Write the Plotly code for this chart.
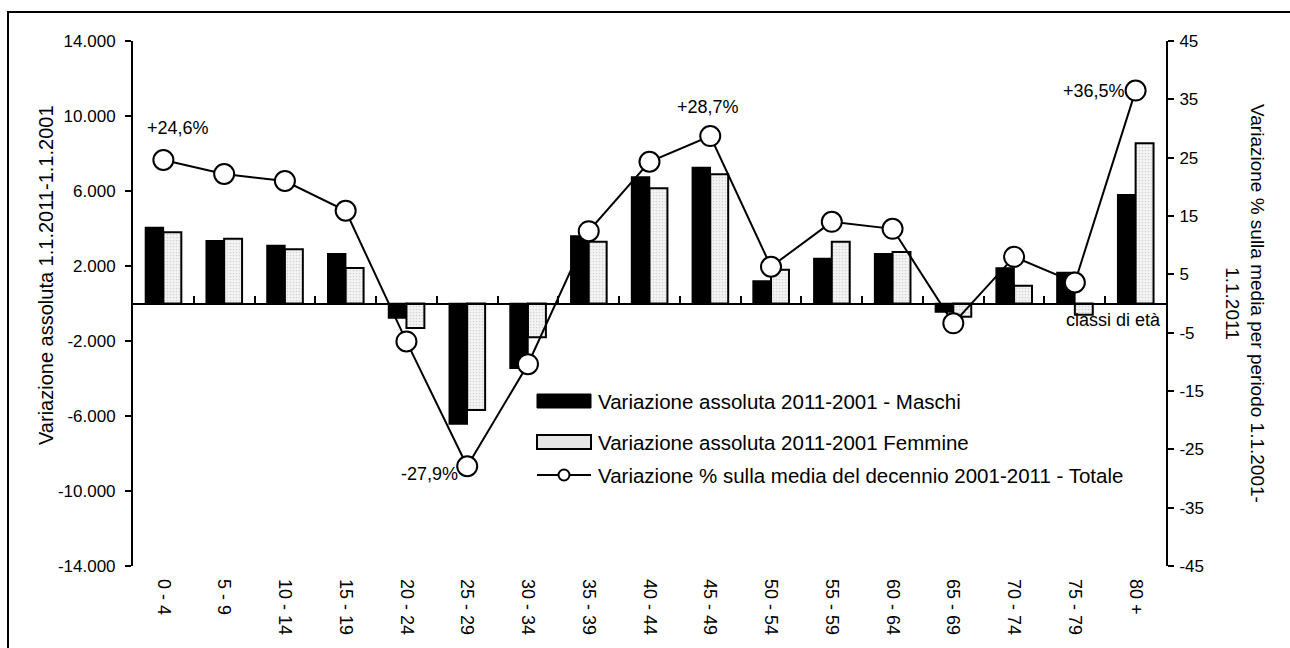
import plotly.graph_objects as go

# Age classes and values
classi = ["0 - 4", "5 - 9", "10 - 14", "15 - 19", "20 - 24", "25 - 29", "30 - 34",
          "35 - 39", "40 - 44", "45 - 49", "50 - 54", "55 - 59", "60 - 64",
          "65 - 69", "70 - 74", "75 - 79", "80 +"]
maschi = [4050, 3350, 3100, 2650, -770, -6430, -3450, 3600, 6750, 7250,
          1200, 2400, 2650, -450, 1900, 1650, 5800]
femmine = [3800, 3450, 2900, 1900, -1300, -5680, -1800, 3300, 6150, 6900,
           1800, 3300, 2750, -700, 950, -600, 8550]
totale_pct = [24.6, 22.2, 21.0, 15.9, -6.5, -27.9, -10.4, 12.4, 24.3, 28.7,
              6.3, 14.0, 12.8, -3.4, 8.0, 3.6, 36.5]

left_tickvals = [-14000, -10000, -6000, -2000, 2000, 6000, 10000, 14000]
left_ticktext = ["-14.000", "-10.000", "-6.000", "-2.000", "2.000", "6.000", "10.000", "14.000"]
right_tickvals = [-45, -35, -25, -15, -5, 5, 15, 25, 35, 45]
right_ticktext = ["-45", "-35", "-25", "-15", "-5", "5", "15", "25", "35", "45"]

name_m = "Variazione assoluta 2011-2001 - Maschi"
name_f = "Variazione assoluta 2011-2001 Femmine"
name_t = "Variazione % sulla media del decennio 2001-2011 - Totale"
title_left = "Variazione assoluta 1.1.2011-1.1.2001"
title_right = "Variazione % sulla media per periodo 1.1.2001-<br>1.1.2011"
title_x = "classi di età"

# labelled points: (index, xshift, yshift)
labelled = [(0, 15, 32), (9, -2, 29), (5, -38, -8), (16, -42, 0)]

FONT = "Liberation Sans, Arial, sans-serif"
W_PX, H_PX = 1290, 648
L, R, T, B = 133, 124, 41, 82
PW, PH = W_PX - L - R, H_PX - T - B


def px_x(p):
    return (p - L) / PW


def px_y(p):
    return (H_PX - B - p) / PH


fig = go.Figure()
fig.add_trace(go.Bar(
    x=classi, y=maschi, name=name_m, xaxis="x", yaxis="y",
    marker=dict(color="black", line=dict(color="black", width=1.5)),
))
fig.add_trace(go.Bar(
    x=classi, y=femmine, name=name_f, xaxis="x", yaxis="y",
    marker=dict(color="#f4f4f4", line=dict(color="black", width=2),
                pattern=dict(shape=".", fgcolor="#b4b4b4", bgcolor="#f4f4f4",
                             size=3, solidity=0.25)),
))
fig.add_trace(go.Scatter(
    x=classi, y=totale_pct, name=name_t, xaxis="x2", yaxis="y2",
    mode="lines+markers",
    line=dict(color="black", width=2),
    marker=dict(symbol="circle", size=20, color="white",
                line=dict(color="black", width=2)),
))

annotations = []
for i, xs, ys in labelled:
    v = totale_pct[i]
    annotations.append(dict(
        x=classi[i], y=v, xref="x2", yref="y2", xanchor="center", yanchor="middle",
        text=f"{v:+.1f}%".replace(".", ","), showarrow=False,
        xshift=xs, yshift=ys, font=dict(family=FONT, size=18, color="black"),
    ))

# axis titles
annotations.append(dict(
    x=px_x(46), y=px_y(275), xref="paper", yref="paper", text=title_left,
    textangle=-90, showarrow=False, xanchor="center", yanchor="middle",
    font=dict(family=FONT, size=20, color="black"),
))
annotations.append(dict(
    x=px_x(1245), y=px_y(303), xref="paper", yref="paper", text=title_right,
    textangle=90, showarrow=False, xanchor="center", yanchor="middle",
    font=dict(family=FONT, size=19, color="black"),
))
annotations.append(dict(
    x=px_x(1163), y=px_y(308), xref="paper", yref="paper", text=title_x,
    showarrow=False, xanchor="right", yanchor="top",
    font=dict(family=FONT, size=18, color="black"),
))

# legend drawn inside the plot
shapes = []
leg_x0, leg_x1 = 537, 591
leg_rows = [401, 442, 475]
shapes.append(dict(type="rect", xref="paper", yref="paper",
                   x0=px_x(leg_x0), x1=px_x(leg_x1),
                   y0=px_y(leg_rows[0] - 7), y1=px_y(leg_rows[0] + 7),
                   fillcolor="black", line=dict(color="black", width=1)))
shapes.append(dict(type="rect", xref="paper", yref="paper",
                   x0=px_x(leg_x0), x1=px_x(leg_x1),
                   y0=px_y(leg_rows[1] - 7), y1=px_y(leg_rows[1] + 7),
                   fillcolor="#e6e6e6", line=dict(color="black", width=2)))
shapes.append(dict(type="line", xref="paper", yref="paper",
                   x0=px_x(leg_x0), x1=px_x(leg_x1),
                   y0=px_y(leg_rows[2]), y1=px_y(leg_rows[2]),
                   line=dict(color="black", width=2)))
shapes.append(dict(type="circle", xref="paper", yref="paper",
                   xsizemode="pixel", ysizemode="pixel",
                   xanchor=px_x((leg_x0 + leg_x1) / 2), yanchor=px_y(leg_rows[2]),
                   x0=-5.5, x1=5.5, y0=-5.5, y1=5.5,
                   fillcolor="white", line=dict(color="black", width=2)))
for name, yy in zip([name_m, name_f, name_t], leg_rows):
    annotations.append(dict(
        x=px_x(596), y=px_y(yy), xref="paper", yref="paper", text=name,
        showarrow=False, xanchor="left", yanchor="middle",
        font=dict(family=FONT, size=20.5, color="black"),
    ))

# outer frame: top and left edges (the rest falls outside the page)
shapes.append(dict(type="line", xref="paper", yref="paper",
                   x0=px_x(7), x1=px_x(W_PX + 5), y0=px_y(12), y1=px_y(12),
                   line=dict(color="black", width=2)))
shapes.append(dict(type="line", xref="paper", yref="paper",
                   x0=px_x(8), x1=px_x(8), y0=px_y(11), y1=px_y(H_PX + 5),
                   line=dict(color="black", width=2)))

fig.update_layout(
    width=W_PX, height=H_PX,
    margin=dict(l=L, r=R, t=T, b=B, pad=0),
    paper_bgcolor="white", plot_bgcolor="white",
    showlegend=False,
    barmode="group", bargap=0.41, bargroupgap=0,
    font=dict(family=FONT, size=17, color="black"),
    xaxis=dict(
        type="category", categoryorder="array", categoryarray=classi,
        range=[-0.5, len(classi) - 0.5],
        showline=False, showgrid=False, zeroline=False, ticks="",
        tickangle=90, ticklabelstandoff=12,
        tickfont=dict(family=FONT, size=18, color="black"),
    ),
    xaxis2=dict(
        type="category", categoryorder="array", categoryarray=classi,
        range=[-0.5, len(classi) - 0.5],
        overlaying="x", anchor="free", position=0.5,
        showline=True, linecolor="black", linewidth=2,
        ticks="inside", tickson="boundaries", ticklen=7, tickwidth=2, tickcolor="black",
        showticklabels=False, showgrid=False, zeroline=False,
    ),
    yaxis=dict(
        range=[-14000, 14000], tickvals=left_tickvals, ticktext=left_ticktext,
        showline=True, linecolor="black", linewidth=2,
        ticks="outside", ticklen=6, tickwidth=2, tickcolor="black",
        ticklabelstandoff=6,
        showgrid=False, zeroline=False,
        tickfont=dict(family=FONT, size=17, color="black"),
    ),
    yaxis2=dict(
        range=[-45, 45], tickvals=right_tickvals, ticktext=right_ticktext,
        overlaying="y", side="right", anchor="x",
        showline=True, linecolor="black", linewidth=2,
        ticks="outside", ticklen=6, tickwidth=2, tickcolor="black",
        ticklabelstandoff=2,
        showgrid=False, zeroline=False,
        tickfont=dict(family=FONT, size=17, color="black"),
    ),
    annotations=annotations,
    shapes=shapes,
)

fig.write_html("out.html")
